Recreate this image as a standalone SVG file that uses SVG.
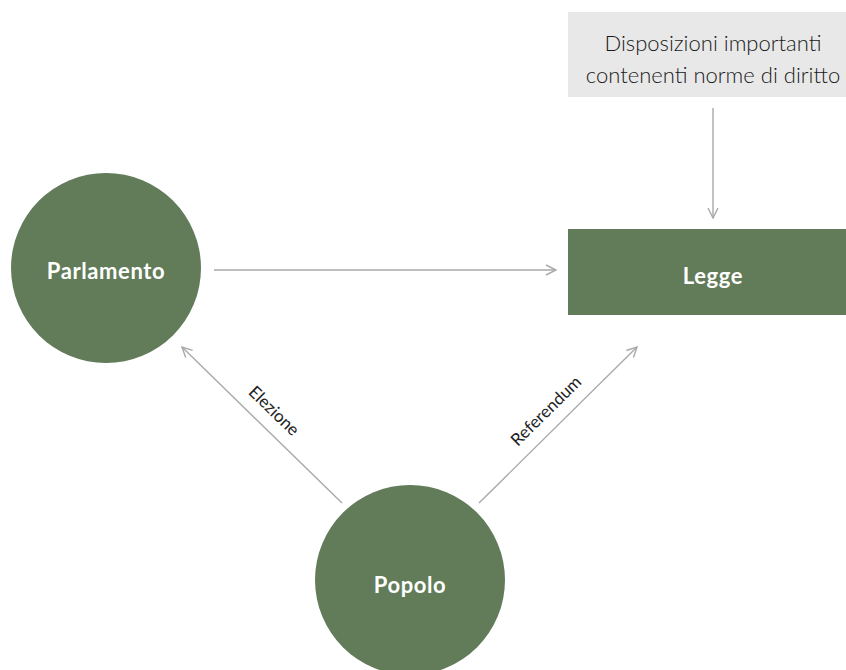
<svg xmlns="http://www.w3.org/2000/svg" width="846" height="670" viewBox="0 0 846 670">
<style>
.node{fill:#627b58}
.lbl{font-family:Lato,"Open Sans","Liberation Sans",sans-serif;font-weight:bold;font-size:22px;letter-spacing:0.6px;fill:#ffffff;text-anchor:middle}
.note{font-family:Lato,"Open Sans","Liberation Sans",sans-serif;font-size:22px;font-weight:300;fill:#1a1a1a;text-anchor:middle}
.edge{stroke:#a9a9a9;stroke-width:1.4;fill:none}
.elbl{font-family:Lato,"Open Sans","Liberation Sans",sans-serif;font-size:17px;fill:#222222;text-anchor:middle}
</style>
<defs>
<marker id="arr" viewBox="0 0 12 12" refX="11" refY="6" markerWidth="12" markerHeight="12" markerUnits="userSpaceOnUse" orient="auto">
<path d="M1,1 L11,6 L1,11" fill="none" stroke="#a9a9a9" stroke-width="1.4"/>
</marker>
</defs>
<rect width="846" height="670" fill="#ffffff"/>
<g id="note">
<rect x="568" y="12" width="278" height="85" fill="#e8e8e8"/>
<text class="note" x="713" y="51">Disposizioni importanti</text>
<text class="note" x="713" y="83">contenenti norme di diritto</text>
</g>
<g id="legge">
<rect class="node" x="568" y="229" width="278" height="86"/>
<text class="lbl" x="713" y="284">Legge</text>
</g>
<g id="parlamento">
<circle class="node" cx="106" cy="268" r="95"/>
<text class="lbl" x="106" y="279">Parlamento</text>
</g>
<g id="popolo">
<circle class="node" cx="410" cy="580" r="95"/>
<text class="lbl" x="410" y="593">Popolo</text>
</g>
<g id="connectors">
<line class="edge" x1="214" y1="270" x2="556" y2="270" marker-end="url(#arr)"/>
<line class="edge" x1="713" y1="108" x2="713" y2="218" marker-end="url(#arr)"/>
<line class="edge" x1="342" y1="503" x2="182" y2="347" marker-end="url(#arr)"/>
<line class="edge" x1="479" y1="503" x2="637" y2="347" marker-end="url(#arr)"/>
<text class="elbl" transform="translate(270,415) rotate(44.3)">Elezione</text>
<text class="elbl" transform="translate(550,415) rotate(-44.6)">Referendum</text>
</g>
</svg>
